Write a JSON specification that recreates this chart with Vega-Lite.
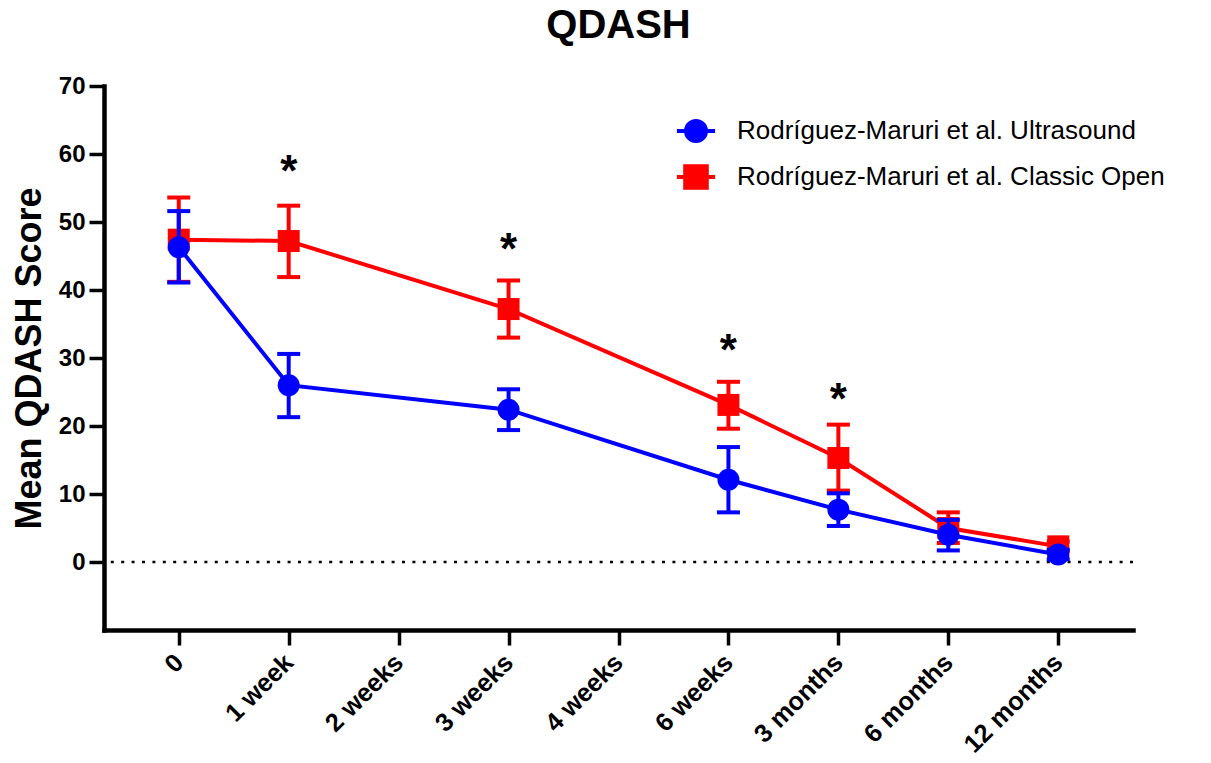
{
  "$schema": "https://vega.github.io/schema/vega-lite/v6.json",
  "width": 1029,
  "height": 544,
  "autosize": {"type": "none"},
  "padding": {"left": 104, "top": 86, "right": 78, "bottom": 133},
  "background": "white",
  "title": {"text": "QDASH", "fontSize": 40, "fontWeight": "bold", "font": "Liberation Sans", "anchor": "middle", "offset": 28, "color": "black"},
  "config": {
    "view": {"stroke": null},
    "font": "Liberation Sans",
    "axis": {"domainColor": "black", "domainWidth": 4.5, "domainCap": "square", "tickColor": "black", "tickWidth": 3.5, "tickSize": 14, "labelFont": "Liberation Sans", "labelFontWeight": "bold", "labelFontSize": 24, "labelColor": "black", "grid": false, "titleFont": "Liberation Sans", "titleFontWeight": "bold", "titleFontSize": 36, "titleColor": "black"},
    "axisX": {"labelAngle": -45, "labelAlign": "right", "labelBaseline": "middle", "labelPadding": 13, "tickSize": 15, "labelFontSize": 25.5},
    "axisY": {"labelPadding": 4, "tickSize": 15, "titlePadding": 10},
    "legend": {"orient": "none", "legendX": 577, "legendY": 30, "labelFontSize": 26, "labelFont": "Liberation Sans", "labelColor": "black", "symbolSize": 645, "labelOffset": 26, "rowPadding": 8, "padding": 0, "labelLimit": 0}
  },
  "datasets": {
    "scores": [
      {"series": "Rodríguez-Maruri et al. Classic Open", "time": "0", "mean": 47.4, "lo": 41.2, "hi": 53.6},
      {"series": "Rodríguez-Maruri et al. Classic Open", "time": "1 week", "mean": 47.2, "lo": 41.9, "hi": 52.4},
      {"series": "Rodríguez-Maruri et al. Classic Open", "time": "3 weeks", "mean": 37.2, "lo": 33.0, "hi": 41.4},
      {"series": "Rodríguez-Maruri et al. Classic Open", "time": "6 weeks", "mean": 23.1, "lo": 19.6, "hi": 26.5},
      {"series": "Rodríguez-Maruri et al. Classic Open", "time": "3 months", "mean": 15.3, "lo": 10.5, "hi": 20.2},
      {"series": "Rodríguez-Maruri et al. Classic Open", "time": "6 months", "mean": 5.0, "lo": 2.8, "hi": 7.3},
      {"series": "Rodríguez-Maruri et al. Classic Open", "time": "12 months", "mean": 2.3, "lo": 1.6, "hi": 3.0},
      {"series": "Rodríguez-Maruri et al. Ultrasound", "time": "0", "mean": 46.3, "lo": 41.1, "hi": 51.6},
      {"series": "Rodríguez-Maruri et al. Ultrasound", "time": "1 week", "mean": 26.0, "lo": 21.3, "hi": 30.6},
      {"series": "Rodríguez-Maruri et al. Ultrasound", "time": "3 weeks", "mean": 22.4, "lo": 19.4, "hi": 25.4},
      {"series": "Rodríguez-Maruri et al. Ultrasound", "time": "6 weeks", "mean": 12.1, "lo": 7.3, "hi": 16.9},
      {"series": "Rodríguez-Maruri et al. Ultrasound", "time": "3 months", "mean": 7.7, "lo": 5.3, "hi": 10.1},
      {"series": "Rodríguez-Maruri et al. Ultrasound", "time": "6 months", "mean": 4.0, "lo": 1.7, "hi": 6.2},
      {"series": "Rodríguez-Maruri et al. Ultrasound", "time": "12 months", "mean": 1.1, "lo": 0.4, "hi": 1.8}
    ],
    "stars": [
      {"time": "1 week", "y": 58.4, "label": "*"},
      {"time": "3 weeks", "y": 46.9, "label": "*"},
      {"time": "6 weeks", "y": 32.0, "label": "*"},
      {"time": "3 months", "y": 24.8, "label": "*"}
    ],
    "zero": [{"zero": 0}]
  },
  "layer": [
    {
      "data": {"name": "zero"},
      "mark": {"type": "rule", "color": "black", "strokeWidth": 2.5, "strokeDash": [3, 7.4]},
      "encoding": {
        "y": {"field": "zero", "type": "quantitative", "scale": {"domain": [-10, 70], "nice": false, "zero": false}, "title": "Mean QDASH Score", "axis": {"values": [0, 10, 20, 30, 40, 50, 60, 70]}}
      }
    },
    {
      "data": {"name": "scores"},
      "transform": [{"filter": "datum.series === 'Rodríguez-Maruri et al. Classic Open'"}],
      "encoding": {
        "x": {"field": "time", "type": "ordinal", "title": null, "scale": {"type": "point", "padding": 0.68, "domain": ["0", "1 week", "2 weeks", "3 weeks", "4 weeks", "6 weeks", "3 months", "6 months", "12 months"]}},
        "color": {"field": "series", "type": "nominal", "title": null, "scale": {"domain": ["Rodríguez-Maruri et al. Ultrasound", "Rodríguez-Maruri et al. Classic Open"], "range": ["#0000ff", "#ff0000"]},
          "legend": {"title": null, "encode": {"symbols": {"update": {
            "shape": {"signal": "indexof(datum.value, 'Ultrasound') >= 0 ? 'M-1.5,0H1.5M0.79,0A0.79,0.79 0 1 1 -0.79,0A0.79,0.79 0 1 1 0.79,0Z' : 'M-1.5,0H1.5M-0.85,-0.85H0.85V0.85H-0.85Z'"},
            "fill": {"scale": "color", "field": "value"},
            "stroke": {"scale": "color", "field": "value"},
            "strokeWidth": {"value": 4},
            "opacity": {"value": 1},
            "fillOpacity": {"value": 1}
          }}}}}
      },
      "layer": [
        {"mark": {"type": "line", "strokeWidth": 4}, "encoding": {"y": {"field": "mean", "type": "quantitative", "scale": {"domain": [-10, 70], "nice": false, "zero": false}, "title": "Mean QDASH Score"}}},
        {"mark": {"type": "rule", "strokeWidth": 4}, "encoding": {"y": {"field": "lo", "type": "quantitative", "title": "Mean QDASH Score"}, "y2": {"field": "hi"}}},
        {"mark": {"type": "tick", "thickness": 4, "size": 23, "opacity": 1}, "encoding": {"y": {"field": "lo", "type": "quantitative", "title": "Mean QDASH Score"}}},
        {"mark": {"type": "tick", "thickness": 4, "size": 23, "opacity": 1}, "encoding": {"y": {"field": "hi", "type": "quantitative", "title": "Mean QDASH Score"}}},
        {"mark": {"type": "point", "filled": true, "size": 484, "opacity": 1, "shape": "square"}, "encoding": {"y": {"field": "mean", "type": "quantitative", "title": "Mean QDASH Score"}}}
      ]
    },
    {
      "data": {"name": "scores"},
      "transform": [{"filter": "datum.series === 'Rodríguez-Maruri et al. Ultrasound'"}],
      "encoding": {
        "x": {"field": "time", "type": "ordinal", "title": null},
        "color": {"field": "series", "type": "nominal", "title": null}
      },
      "layer": [
        {"mark": {"type": "line", "strokeWidth": 4}, "encoding": {"y": {"field": "mean", "type": "quantitative", "title": "Mean QDASH Score"}}},
        {"mark": {"type": "rule", "strokeWidth": 4}, "encoding": {"y": {"field": "lo", "type": "quantitative", "title": "Mean QDASH Score"}, "y2": {"field": "hi"}}},
        {"mark": {"type": "tick", "thickness": 4, "size": 23, "opacity": 1}, "encoding": {"y": {"field": "lo", "type": "quantitative", "title": "Mean QDASH Score"}}},
        {"mark": {"type": "tick", "thickness": 4, "size": 23, "opacity": 1}, "encoding": {"y": {"field": "hi", "type": "quantitative", "title": "Mean QDASH Score"}}},
        {"mark": {"type": "point", "filled": true, "size": 484, "opacity": 1, "shape": "circle"}, "encoding": {"y": {"field": "mean", "type": "quantitative", "title": "Mean QDASH Score"}}}
      ]
    },
    {
      "data": {"name": "stars"},
      "mark": {"type": "text", "fontSize": 44, "fontWeight": "bold", "color": "black", "baseline": "alphabetic", "dy": 21},
      "encoding": {
        "x": {"field": "time", "type": "ordinal", "title": null},
        "y": {"field": "y", "type": "quantitative", "title": "Mean QDASH Score"},
        "text": {"field": "label"}
      }
    }
  ]
}
